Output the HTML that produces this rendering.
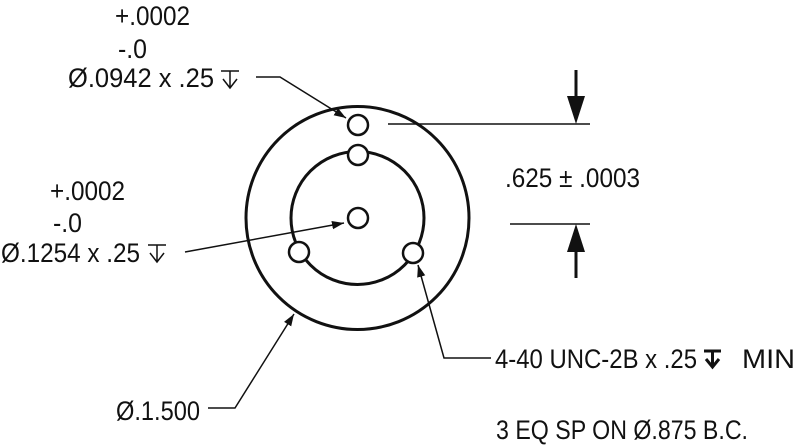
<!DOCTYPE html>
<html><head><style>html,body{margin:0;padding:0;background:#fff}svg{display:block}</style></head>
<body>
<svg width="800" height="445" viewBox="0 0 800 445" xmlns="http://www.w3.org/2000/svg">
<defs>
<marker id="ah" viewBox="0 0 10 10" refX="10" refY="5" markerWidth="12" markerHeight="12" markerUnits="userSpaceOnUse" orient="auto">
<path d="M0,1.5 L10,5 L0,8.5 z" fill="#111"/></marker>
</defs>
<g fill="none" stroke="#111">
<circle cx="357.5" cy="218" r="111.5" stroke-width="3"/>
<circle cx="357.5" cy="218" r="66.5" stroke-width="3"/>
<g fill="#fff" stroke-width="2.5">
<circle cx="358" cy="125" r="10"/>
<circle cx="358" cy="155" r="10"/>
<circle cx="358" cy="218" r="10"/>
<circle cx="299" cy="252" r="10"/>
<circle cx="413" cy="253" r="10"/>
</g>
<g stroke-width="1.5">
<line x1="388" y1="124" x2="590" y2="124"/>
<line x1="510" y1="224" x2="590" y2="224"/>
<line x1="576" y1="70" x2="576" y2="100" stroke-width="3"/>
<line x1="576" y1="248" x2="576" y2="278" stroke-width="3"/>
<polyline points="256,77 280,77 346,118" marker-end="url(#ah)"/>
<line x1="185" y1="252" x2="344" y2="223" marker-end="url(#ah)"/>
<polyline points="208,408 235,408 294,314" marker-end="url(#ah)"/>
<polyline points="491,358 444,358 418,265" marker-end="url(#ah)"/>
</g>
</g>
<path d="M567,96 L585,96 L576,124 z" fill="#111"/>
<path d="M567,252 L585,252 L576,224 z" fill="#111"/>
<g font-family="'Liberation Sans', sans-serif" font-size="27" fill="#111">
<text x="115" y="25" textLength="75" lengthAdjust="spacingAndGlyphs">+.0002</text>
<text x="118" y="58" textLength="29" lengthAdjust="spacingAndGlyphs">-.0</text>
<text x="68" y="87" textLength="146" lengthAdjust="spacingAndGlyphs">Ø.0942 x .25</text>
<text x="50" y="200" textLength="75" lengthAdjust="spacingAndGlyphs">+.0002</text>
<text x="53" y="232" textLength="29" lengthAdjust="spacingAndGlyphs">-.0</text>
<text x="1" y="262" textLength="139" lengthAdjust="spacingAndGlyphs">Ø.1254 x .25</text>
<text x="505" y="187" textLength="135" lengthAdjust="spacingAndGlyphs">.625 ± .0003</text>
<text x="495" y="368" textLength="202" lengthAdjust="spacingAndGlyphs">4-40 UNC-2B x .25</text>
<text x="742" y="368" textLength="53" lengthAdjust="spacingAndGlyphs">MIN</text>
<text x="116" y="420" textLength="84" lengthAdjust="spacingAndGlyphs">Ø.1.500</text>
<text x="496" y="439" textLength="252" lengthAdjust="spacingAndGlyphs">3 EQ SP ON Ø.875 B.C.</text>
</g>
<g stroke="#111" fill="none" stroke-width="1.5">
<path d="M221,71 H239 M230,71 V88 M223,79 L230,88 L237,79"/>
<path d="M148,245 H166 M157,245 V262 M150,253 L157,262 L164,253"/>
<path d="M704,351 H721 M712.5,351 V367 M706,359 L712.5,367 L719,359" stroke-width="3"/>
</g>
</svg>
</body></html>
